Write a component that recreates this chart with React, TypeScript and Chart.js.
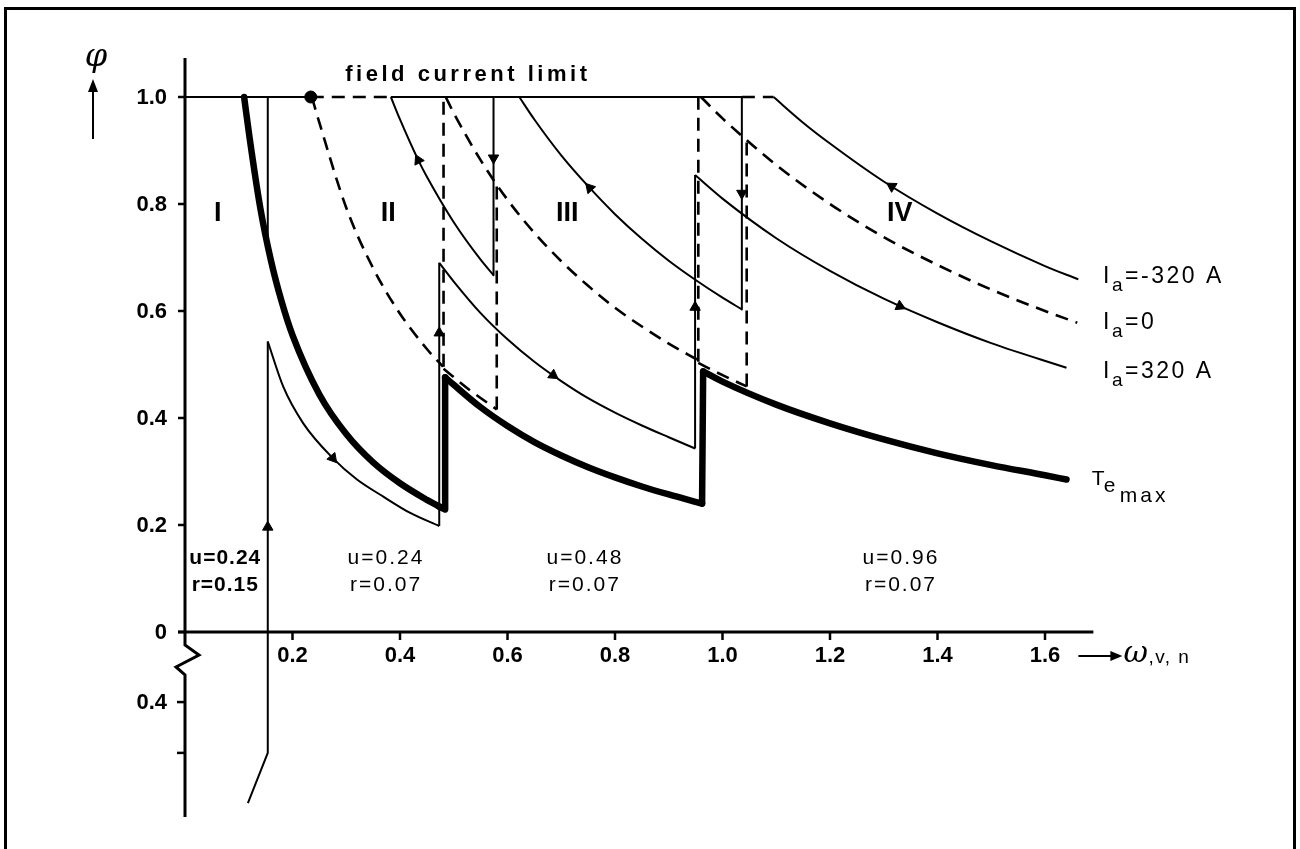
import React, { useEffect, useRef } from "react";
import { Chart, registerables } from "chart.js";

Chart.register(...registerables);

type P = [number, number];

// ---------- axes ----------
const X_MIN = 0;
const X_MAX = 1.7;
const Y_MIN = -0.346;
const Y_MAX = 1.1;
const X_AXIS_END = 1.69;
const Y_AXIS_TOP = 1.073;
const X_TICKS = [0.2, 0.4, 0.6, 0.8, 1.0, 1.2, 1.4, 1.6];
const X_TICK_LABELS = ["0.2", "0.4", "0.6", "0.8", "1.0", "1.2", "1.4", "1.6"];
const Y_TICKS = [0, 0.2, 0.4, 0.6, 0.8, 1.0];
const Y_TICK_LABELS = ["0", "0.2", "0.4", "0.6", "0.8", "1.0"];
const LOWER_TICKS = [-0.131, -0.226];
const LOWER_TICK_LABELS = ["0.4", ""];

// ---------- T_e max (thick) ----------
const TE_MAX_I: P[] = [[0.110, 1.0], [0.12, 0.925], [0.14, 0.793], [0.16, 0.694], [0.18, 0.617], [0.2, 0.555], [0.25, 0.444], [0.3, 0.37], [0.35, 0.317], [0.4, 0.278], [0.45, 0.247], [0.472, 0.235]];
const TE_MAX_JUMP_1: P[] = [[0.472, 0.235], [0.484, 0.229], [0.484, 0.476]];
const TE_MAX_II: P[] = [[0.484, 0.476], [0.5, 0.462], [0.55, 0.42], [0.6, 0.385], [0.65, 0.355], [0.7, 0.33], [0.75, 0.308], [0.8, 0.289], [0.85, 0.272], [0.9, 0.257], [0.962, 0.24]];
const TE_MAX_JUMP_2: P[] = [[0.962, 0.24], [0.964, 0.487]];
const TE_MAX_III: P[] = [[0.964, 0.487], [1.0, 0.468], [1.1, 0.425], [1.2, 0.39], [1.3, 0.36], [1.4, 0.334], [1.5, 0.312], [1.6, 0.293], [1.64, 0.285]];

// ---------- I_a = 320 A (thin solid) ----------
const POS_LOWER: P[] = [[0.117, -0.32], [0.154, -0.226], [0.154, 0.543]];
const POS_I: P[] = [[0.154, 0.543], [0.183, 0.458], [0.22, 0.39], [0.275, 0.325], [0.32, 0.285], [0.369, 0.253], [0.42, 0.222], [0.473, 0.198]];
const POS_JUMP_1: P[] = [[0.473, 0.198], [0.473, 0.69]];
const POS_II: P[] = [[0.473, 0.69], [0.5, 0.655], [0.55, 0.596], [0.6, 0.547], [0.65, 0.505], [0.7, 0.469], [0.75, 0.437], [0.8, 0.41], [0.85, 0.386], [0.9, 0.364], [0.949, 0.343]];
const POS_JUMP_2: P[] = [[0.949, 0.343], [0.949, 0.854]];
const POS_III: P[] = [[0.949, 0.854], [1.0, 0.81], [1.1, 0.736], [1.2, 0.675], [1.3, 0.623], [1.4, 0.579], [1.5, 0.54], [1.64, 0.494]];

// ---------- I_a = -320 A (thin solid) ----------
const NEG_II: P[] = [[0.383, 1.0], [0.4, 0.958], [0.434, 0.882], [0.45, 0.851], [0.5, 0.766], [0.55, 0.696], [0.574, 0.667]];
const NEG_DROP_1: P[] = [[0.574, 1.0], [0.574, 0.667]];
const NEG_III: P[] = [[0.622, 1.0], [0.65, 0.958], [0.7, 0.891], [0.753, 0.83], [0.8, 0.781], [0.85, 0.735], [0.9, 0.694], [0.95, 0.658], [1.0, 0.625], [1.036, 0.603]];
const NEG_DROP_2: P[] = [[1.036, 1.0], [1.036, 0.603]];
const NEG_IV: P[] = [[1.095, 1.0], [1.15, 0.952], [1.2, 0.913], [1.3, 0.842], [1.4, 0.782], [1.5, 0.73], [1.6, 0.684], [1.662, 0.659]];

// ---------- I_a = 0 (dashed) ----------
const ZERO_TOP_1: P[] = [[0.234, 1.0], [0.383, 1.0]];
const ZERO_II: P[] = [[0.236, 1.0], [0.25, 0.952], [0.3, 0.793], [0.35, 0.68], [0.4, 0.595], [0.45, 0.529], [0.48, 0.496]];
const ZERO_RISE_1: P[] = [[0.481, 0.496], [0.481, 1.0]];
const ZERO_III: P[] = [[0.485, 1.0], [0.5, 0.97], [0.55, 0.882], [0.6, 0.808], [0.65, 0.746], [0.7, 0.693], [0.75, 0.647], [0.8, 0.606], [0.85, 0.571], [0.9, 0.539], [0.955, 0.508]];
const ZERO_LINK_1: P[] = [[0.481, 0.492], [0.53, 0.452], [0.58, 0.416]];
const ZERO_RISE_2: P[] = [[0.58, 0.416], [0.58, 0.836]];
const ZERO_RISE_3: P[] = [[0.955, 0.505], [0.955, 1.0]];
const ZERO_LINK_2: P[] = [[0.955, 0.503], [1.0, 0.48], [1.045, 0.459]];
const ZERO_RISE_4: P[] = [[1.045, 0.459], [1.045, 0.918]];
const ZERO_IV: P[] = [[0.96, 1.0], [1.0, 0.96], [1.1, 0.873], [1.2, 0.8], [1.3, 0.738], [1.4, 0.686], [1.5, 0.64], [1.6, 0.6], [1.66, 0.578]];
const ZERO_TOP_2: P[] = [[1.036, 1.0], [1.095, 1.0]];

// ---------- limits / boundaries (thin solid) ----------
const FIELD_LIMIT_A: P[] = [[0, 1.0], [0.234, 1.0]];
const FIELD_LIMIT_B: P[] = [[0.383, 1.0], [1.036, 1.0]];
const REGION_I_EDGE: P[] = [[0.154, 1.0], [0.154, 0.72]];
const START_DOT: P[] = [[0.234, 1.0]];

// ---------- direction arrows ----------
const ARROW_POINTS: P[] = [[0.154, 0.196], [0.275, 0.325], [0.473, 0.559], [0.434, 0.882], [0.574, 0.886], [0.753, 0.83], [0.685, 0.48], [0.949, 0.607], [1.036, 0.82], [1.315, 0.833], [1.33, 0.609]];
const ARROW_ANGLES = [0, 140, 0, -26, 180, -42, 125, 0, 180, -58, 115];

// ---------- annotations ----------
const REGION_NAMES = ["I", "II", "III", "IV"];
const REGION_NAME_X = [0.061, 0.378, 0.711, 1.33];
const REGION_NAME_Y = 0.783;
const U_LABELS = ["u=0.24", "u=0.24", "u=0.48", "u=0.96"];
const R_LABELS = ["r=0.15", "r=0.07", "r=0.07", "r=0.07"];
const UR_LABEL_X = [0.075, 0.374, 0.744, 1.332];
const U_ROW_Y = 0.138;
const R_ROW_Y = 0.088;
const CURVE_LABEL_REST = ["=-320 A", "=0", "=320 A"];
const CURVE_LABEL_Y = [0.652, 0.566, 0.475];
const CURVE_LABEL_X = 1.708;
const TE_LABEL_X = 1.687;
const TE_LABEL_Y = 0.275;
const FIELD_TEXT = "field current limit";
const FIELD_TEXT_X = [0.298, 0.748];
const FIELD_TEXT_Y = 1.041;

const FONT = "'Liberation Sans', Arial, sans-serif";

type Kind = "thin" | "thick" | "dash";
const KIND_STYLE: Record<Kind, { w: number; dash: number[] }> = {
  thin: { w: 2, dash: [] },
  thick: { w: 6.5, dash: [] },
  dash: { w: 2.6, dash: [13, 8] },
};

function lineSet(data: P[], kind: Kind, smooth: boolean) {
  const s = KIND_STYLE[kind];
  return {
    type: "line" as const,
    data: data.map(([x, y]) => ({ x, y })),
    borderColor: "#000",
    borderWidth: s.w,
    borderDash: s.dash,
    borderCapStyle: kind === "thick" ? "round" : "butt",
    borderJoinStyle: "round",
    pointRadius: 0,
    pointHoverRadius: 0,
    fill: false,
    tension: smooth ? 0.4 : 0,
    cubicInterpolationMode: smooth ? "monotone" : "default",
    clip: false,
  };
}

function drawText(ctx: CanvasRenderingContext2D, s: string, x: number, y: number, font: string, align: CanvasTextAlign = "center", baseline: CanvasTextBaseline = "middle", spacing = 0) {
  ctx.font = font;
  ctx.textAlign = align;
  ctx.textBaseline = baseline;
  (ctx as any).letterSpacing = spacing + "px";
  ctx.fillText(s, x, y);
  (ctx as any).letterSpacing = "0px";
}

const annotPlugin = {
  id: "annot",
  beforeDraw(chart: any) {
    const ctx: CanvasRenderingContext2D = chart.ctx;
    ctx.save();
    ctx.fillStyle = "#fff";
    ctx.fillRect(0, 0, chart.width, chart.height);
    ctx.strokeStyle = "#000";
    ctx.lineWidth = 3;
    ctx.strokeRect(5.5, 8.5, 1289, 870);
    ctx.restore();
  },
  beforeDatasetsDraw(chart: any) {
    const ctx: CanvasRenderingContext2D = chart.ctx;
    const xs = chart.scales.x;
    const ys = chart.scales.y;
    const X = (v: number) => xs.getPixelForValue(v);
    const Y = (v: number) => ys.getPixelForValue(v);
    const x0 = X(0);
    const y0 = Y(0);
    ctx.save();
    ctx.strokeStyle = "#000";
    ctx.fillStyle = "#000";
    ctx.lineWidth = 3;
    ctx.lineJoin = "miter";
    // y axis with break
    ctx.beginPath();
    ctx.moveTo(x0, Y(Y_AXIS_TOP));
    ctx.lineTo(x0, y0 + 13);
    ctx.lineTo(x0 + 14, y0 + 23);
    ctx.lineTo(x0 - 9, y0 + 35);
    ctx.lineTo(x0, y0 + 43);
    ctx.lineTo(x0, Y(Y_MIN));
    ctx.stroke();
    // x axis
    ctx.beginPath();
    ctx.moveTo(x0 - 7, y0);
    ctx.lineTo(X(X_AXIS_END), y0);
    ctx.stroke();
    // y ticks
    ctx.lineWidth = 2.5;
    Y_TICKS.forEach((v, i) => {
      const py = Y(v);
      ctx.beginPath();
      ctx.moveTo(x0 - 7, py);
      ctx.lineTo(x0, py);
      ctx.stroke();
      drawText(ctx, Y_TICK_LABELS[i], x0 - 18, py + 1, `bold 22px ${FONT}`, "right", "middle");
    });
    LOWER_TICKS.forEach((v, i) => {
      const py = Y(v);
      ctx.beginPath();
      ctx.moveTo(x0 - 8, py);
      ctx.lineTo(x0, py);
      ctx.stroke();
      if (LOWER_TICK_LABELS[i]) drawText(ctx, LOWER_TICK_LABELS[i], x0 - 18, py + 1, `bold 22px ${FONT}`, "right", "middle");
    });
    // x ticks
    X_TICKS.forEach((v, i) => {
      const px = X(v);
      ctx.beginPath();
      ctx.moveTo(px, y0);
      ctx.lineTo(px, y0 + 8);
      ctx.stroke();
      drawText(ctx, X_TICK_LABELS[i], px, y0 + 24, `bold 22px ${FONT}`, "center", "middle");
    });
    ctx.restore();
  },
  afterDraw(chart: any) {
    const ctx: CanvasRenderingContext2D = chart.ctx;
    const xs = chart.scales.x;
    const ys = chart.scales.y;
    const X = (v: number) => xs.getPixelForValue(v);
    const Y = (v: number) => ys.getPixelForValue(v);
    const x0 = X(0);
    const y0 = Y(0);
    ctx.save();
    ctx.fillStyle = "#000";
    ctx.strokeStyle = "#000";
    // phi label with up arrow
    drawText(ctx, "φ", x0 - 89, Y(Y_AXIS_TOP) + 0, `italic 32px 'DejaVu Serif', serif`, "center", "middle");
    ctx.lineWidth = 2;
    ctx.beginPath();
    ctx.moveTo(x0 - 92, Y(1.0) + 42);
    ctx.lineTo(x0 - 92, Y(1.0) - 10);
    ctx.stroke();
    ctx.beginPath();
    ctx.moveTo(x0 - 92, Y(1.0) - 18);
    ctx.lineTo(x0 - 97, Y(1.0) - 5);
    ctx.lineTo(x0 - 87, Y(1.0) - 5);
    ctx.closePath();
    ctx.fill();
    // x axis name
    const ax = X(X_AXIS_END) - 15;
    const ay = y0 + 24;
    ctx.beginPath();
    ctx.moveTo(ax, ay);
    ctx.lineTo(ax + 36, ay);
    ctx.stroke();
    ctx.beginPath();
    ctx.moveTo(ax + 44, ay);
    ctx.lineTo(ax + 32, ay - 5);
    ctx.lineTo(ax + 32, ay + 5);
    ctx.closePath();
    ctx.fill();
    drawText(ctx, "ω", ax + 45, ay - 2, `italic 30px 'DejaVu Serif', serif`, "left", "middle");
    drawText(ctx, ",v, n", ax + 70, ay + 2, `19px ${FONT}`, "left", "middle", 1.5);
    // field current limit
    {
      ctx.font = `bold 22px ${FONT}`;
      const w0 = ctx.measureText(FIELD_TEXT).width;
      const target = X(FIELD_TEXT_X[1]) - X(FIELD_TEXT_X[0]);
      const sp = (target - w0) / (FIELD_TEXT.length - 1);
      drawText(ctx, FIELD_TEXT, X(FIELD_TEXT_X[0]), Y(FIELD_TEXT_Y), `bold 22px ${FONT}`, "left", "middle", sp);
    }
    // region names
    REGION_NAMES.forEach((s, i) => {
      drawText(ctx, s, X(REGION_NAME_X[i]), Y(REGION_NAME_Y), `bold 27px ${FONT}`, "center", "middle", 0);
    });
    // u / r labels
    U_LABELS.forEach((s, i) => {
      const bold = i === 0 ? "bold " : "";
      drawText(ctx, s, X(UR_LABEL_X[i]), Y(U_ROW_Y), `${bold}21px ${FONT}`, "center", "middle", i === 0 ? 1 : 2);
      drawText(ctx, R_LABELS[i], X(UR_LABEL_X[i]), Y(R_ROW_Y), `${bold}21px ${FONT}`, "center", "middle", i === 0 ? 1 : 2);
    });
    // curve labels I_a
    CURVE_LABEL_REST.forEach((s, i) => {
      const bx = X(CURVE_LABEL_X);
      const by = Y(CURVE_LABEL_Y[i]);
      drawText(ctx, "I", bx, by, `23px ${FONT}`, "left", "alphabetic");
      drawText(ctx, "a", bx + 9, by + 8, `19px ${FONT}`, "left", "alphabetic");
      drawText(ctx, s, bx + 22, by, `23px ${FONT}`, "left", "alphabetic", 2.5);
    });
    // Te max
    {
      const tx = X(TE_LABEL_X);
      const ty = Y(TE_LABEL_Y);
      drawText(ctx, "T", tx, ty, `21px ${FONT}`, "left", "alphabetic");
      drawText(ctx, "e", tx + 12, ty + 7, `21px ${FONT}`, "left", "alphabetic");
      drawText(ctx, "max", tx + 28, ty + 17, `21px ${FONT}`, "left", "alphabetic", 3);
    }
    ctx.restore();
  },
};

export default function App() {
  const ref = useRef<HTMLCanvasElement>(null);
  useEffect(() => {
    const datasets: any[] = [
      lineSet(FIELD_LIMIT_A, "thin", false),
      lineSet(FIELD_LIMIT_B, "thin", false),
      lineSet(REGION_I_EDGE, "thin", false),
      lineSet(POS_LOWER, "thin", false),
      lineSet(POS_I, "thin", true),
      lineSet(POS_JUMP_1, "thin", false),
      lineSet(POS_II, "thin", true),
      lineSet(POS_JUMP_2, "thin", false),
      lineSet(POS_III, "thin", true),
      lineSet(NEG_II, "thin", true),
      lineSet(NEG_DROP_1, "thin", false),
      lineSet(NEG_III, "thin", true),
      lineSet(NEG_DROP_2, "thin", false),
      lineSet(NEG_IV, "thin", true),
      lineSet(ZERO_TOP_1, "dash", false),
      lineSet(ZERO_II, "dash", true),
      lineSet(ZERO_RISE_1, "dash", false),
      lineSet(ZERO_III, "dash", true),
      lineSet(ZERO_LINK_1, "dash", true),
      lineSet(ZERO_RISE_2, "dash", false),
      lineSet(ZERO_RISE_3, "dash", false),
      lineSet(ZERO_LINK_2, "dash", true),
      lineSet(ZERO_RISE_4, "dash", false),
      lineSet(ZERO_IV, "dash", true),
      lineSet(ZERO_TOP_2, "dash", false),
      lineSet(TE_MAX_I, "thick", true),
      lineSet(TE_MAX_JUMP_1, "thick", false),
      lineSet(TE_MAX_II, "thick", true),
      lineSet(TE_MAX_JUMP_2, "thick", false),
      lineSet(TE_MAX_III, "thick", true),
      {
        type: "scatter",
        data: ARROW_POINTS.map(([x, y]) => ({ x, y })),
        pointStyle: "triangle",
        pointRadius: 6,
        pointRotation: ARROW_ANGLES,
        backgroundColor: "#000",
        borderColor: "#000",
        borderWidth: 1,
        showLine: false,
        clip: false,
      },
      {
        type: "scatter",
        data: START_DOT.map(([x, y]) => ({ x, y })),
        pointStyle: "circle",
        pointRadius: 6,
        backgroundColor: "#000",
        borderColor: "#000",
        showLine: false,
        clip: false,
      },
    ];
    const chart = new Chart(ref.current as HTMLCanvasElement, {
      type: "line",
      data: { datasets },
      options: {
        responsive: false,
        animation: false,
        events: [],
        layout: { padding: { left: 185, right: 201.25, top: 43.5, bottom: 31.9 } },
        scales: {
          x: { type: "linear", min: X_MIN, max: X_MAX, display: false },
          y: { type: "linear", min: Y_MIN, max: Y_MAX, display: false },
        },
        plugins: { legend: { display: false }, tooltip: { enabled: false } },
      } as any,
      plugins: [annotPlugin],
    });
    return () => chart.destroy();
  }, []);
  return (
    <div style={{ position: "fixed", left: 0, top: 0, width: 1300, height: 849, background: "#fff" }}>
      <canvas ref={ref} width={1300} height={849} style={{ display: "block" }} />
    </div>
  );
}
